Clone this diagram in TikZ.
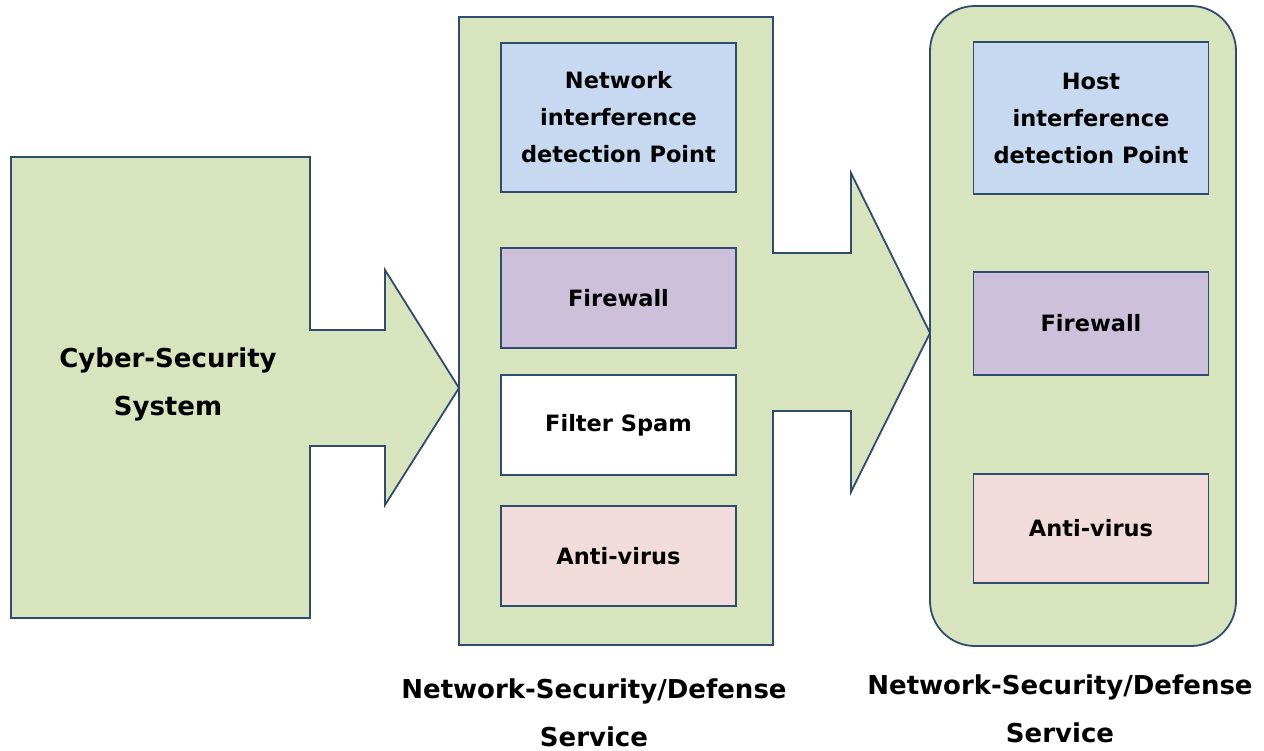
\documentclass[tikz,border=0pt]{standalone}
\usepackage{fontspec}
\setmainfont{DejaVu Sans}
\definecolor{gfill}{HTML}{D7E4BD}
\definecolor{edgec}{HTML}{2F4B6E}
\definecolor{bfill}{HTML}{C6D9F0}
\definecolor{pfill}{HTML}{CCC0DA}
\definecolor{rfill}{HTML}{F2DCDB}
\tikzset{
  outline/.style={draw=edgec, line width=1.8pt, fill=gfill, line join=miter},
  innerbox/.style={draw=edgec, line width=1.5pt, minimum width=235pt, inner sep=0pt, align=center,
     font=\bfseries\fontsize{22.5}{37}\selectfont},
  bigtxt/.style={align=center, inner sep=0pt, font=\bfseries\fontsize{26}{48}\selectfont},
}
\begin{document}
\begin{tikzpicture}[x=1pt,y=-1pt]
\useasboundingbox (0,0) rectangle (1264,751);
% left block with arrow
\draw[outline] (11,157) -- (310,157) -- (310,330) -- (385,330) -- (385,270) -- (459,388)
  -- (385,505) -- (385,446) -- (310,446) -- (310,618) -- (11,618) -- cycle;
% middle block with arrow
\draw[outline] (459,17) -- (773,17) -- (773,253) -- (851,253) -- (851,173) -- (930,333)
  -- (851,492) -- (851,411) -- (773,411) -- (773,645) -- (459,645) -- cycle;
% right rounded block
\draw[outline, rounded corners=45pt] (930,6) rectangle (1236,646);

\node[bigtxt] (css) at (168,384) {Cyber-Security\\System};

\node[innerbox, fill=bfill, minimum height=149pt] (nidp) at (618.5,117.5) {Network\\interference\\detection Point};
\node[innerbox, fill=pfill, minimum height=100pt] (fw1) at (618.5,298) {Firewall};
\node[innerbox, fill=white, minimum height=100pt] (fs1) at (618.5,425) {Filter Spam};
\node[innerbox, fill=rfill, minimum height=100pt] (av1) at (618.5,556) {Anti-virus};

\node[innerbox, fill=bfill, minimum height=152pt] (hidp) at (1091,118) {Host\\interference\\detection Point};
\node[innerbox, fill=pfill, minimum height=103pt] (fw2) at (1091,323.5) {Firewall};
\node[innerbox, fill=rfill, minimum height=109pt] (av2) at (1091,528.5) {Anti-virus};

\node[bigtxt] (lab1) at (594,713) {Network-Security/Defense\\Service};
\node[bigtxt] (lab2) at (1060,709) {Network-Security/Defense\\Service};
\end{tikzpicture}
\end{document}
